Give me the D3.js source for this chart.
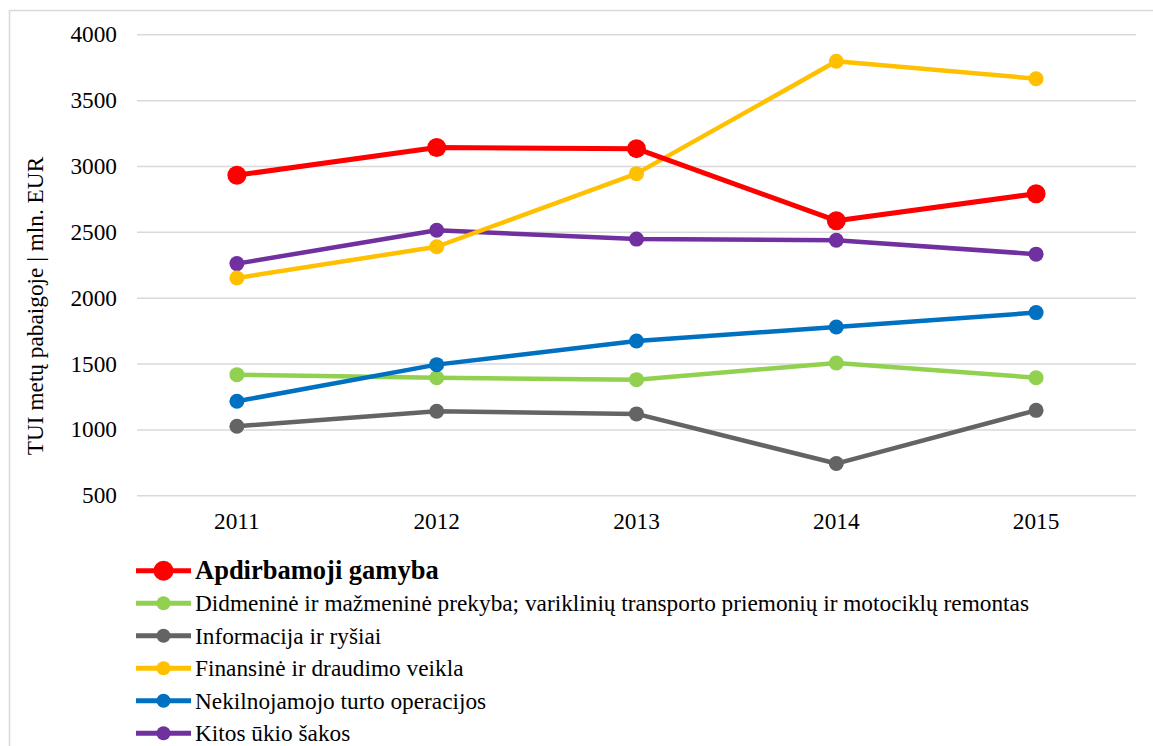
<!DOCTYPE html>
<html>
<head>
<meta charset="utf-8">
<script src="https://cdn.jsdelivr.net/npm/d3@7"></script>
<style>
  html, body { margin: 0; padding: 0; background: #fff; }
  svg text { font-family: "Liberation Serif", "Times New Roman", serif; fill: #000; }
</style>
</head>
<body>
<svg id="chart" width="1153" height="746"></svg>
<script>
const years = ["2011", "2012", "2013", "2014", "2015"];
const yTicks = [500, 1000, 1500, 2000, 2500, 3000, 3500, 4000];
const seriesNames = [
  "Apdirbamoji gamyba",
  "Didmeninė ir mažmeninė prekyba; variklinių transporto priemonių ir motociklų remontas",
  "Informacija ir ryšiai",
  "Finansinė ir draudimo veikla",
  "Nekilnojamojo turto operacijos",
  "Kitos ūkio šakos"
];
const seriesColors = ["#FF0000", "#92D050", "#646464", "#FFC000", "#0070C0", "#7030A0"];
const apdirbamoji = [2930, 3140, 3132, 2585, 2790];
const didmenine = [1416, 1392, 1378, 1504, 1393];
const informacija = [1024, 1138, 1118, 741, 1145];
const finansine = [2150, 2387, 2942, 3795, 3663];
const nekilnojamojo = [1214, 1492, 1671, 1778, 1887];
const kitos = [2259, 2512, 2445, 2436, 2331];
const seriesValues = [apdirbamoji, didmenine, informacija, finansine, nekilnojamojo, kitos];
const yLabel = "TUI metų pabaigoje | mln. EUR";

(function () {
const svg = d3.select("#chart");
const FS = 23.3;

// outer frame
svg.append("rect").attr("x", 9.5).attr("y", 10.5).attr("width", 1160).attr("height", 760)
  .attr("fill", "none").attr("stroke", "#d9d9d9").attr("stroke-width", 1.5);

const pLeft = 137, pRight = 1136, pTop = 34.3, pBottom = 495.3;
const x = d3.scaleBand().domain(years).range([pLeft, pRight]);
const y = d3.scaleLinear().domain([500, 4000]).range([pBottom, pTop]);

// gridlines + y ticks
const yAxis = d3.axisLeft(y).tickValues(yTicks).tickSize(-(pRight - pLeft)).tickPadding(20).tickFormat(d3.format("d"));
const gy = svg.append("g").attr("transform", `translate(${pLeft},0)`).call(yAxis);
gy.attr("font-family", null);
gy.select(".domain").remove();
gy.selectAll(".tick line").attr("stroke", "#d9d9d9").attr("stroke-width", 1.5);
gy.selectAll(".tick text").attr("font-size", FS).attr("fill", "#000").attr("x", -20);

const xAxis = d3.axisBottom(x).tickSize(0).tickPadding(17);
const gx = svg.append("g").attr("transform", `translate(0,${pBottom})`).call(xAxis);
gx.attr("font-family", null);
gx.select(".domain").remove();
gx.selectAll(".tick text").attr("font-size", FS).attr("fill", "#000");

// y label
svg.append("text").attr("transform", `translate(43,306) rotate(-90)`)
  .attr("text-anchor", "middle").attr("font-size", FS).text(yLabel);

const line = d3.line().x((d, i) => x(years[i]) + x.bandwidth() / 2).y(d => y(d));

const order = [1, 2, 4, 5, 3, 0];
order.forEach(si => {
  const g = svg.append("g");
  const isMain = si === 0;
  g.append("path").datum(seriesValues[si]).attr("d", line)
    .attr("fill", "none").attr("stroke", seriesColors[si])
    .attr("stroke-width", isMain ? 5 : 4.5).attr("stroke-linejoin", "round");
  g.selectAll("circle").data(seriesValues[si]).join("circle")
    .attr("cx", (d, i) => x(years[i]) + x.bandwidth() / 2)
    .attr("cy", d => y(d))
    .attr("r", isMain ? 9.5 : 7.5)
    .attr("fill", seriesColors[si]);
});

// legend
const legY0 = 570.7, legStep = 32.5;
seriesNames.forEach((name, i) => {
  const cy = legY0 + i * legStep;
  const g = svg.append("g");
  g.append("line").attr("x1", 136).attr("x2", 191).attr("y1", cy).attr("y2", cy)
    .attr("stroke", seriesColors[i]).attr("stroke-width", 5);
  g.append("circle").attr("cx", 163.5).attr("cy", cy).attr("r", i === 0 ? 10 : 7)
    .attr("fill", seriesColors[i]);
  g.append("text").attr("x", 195).attr("y", cy + 8)
    .attr("font-size", i === 0 ? 26.5 : FS)
    .attr("font-weight", i === 0 ? "bold" : "normal")
    .text(name);
});
})();
</script>
</body>
</html>
